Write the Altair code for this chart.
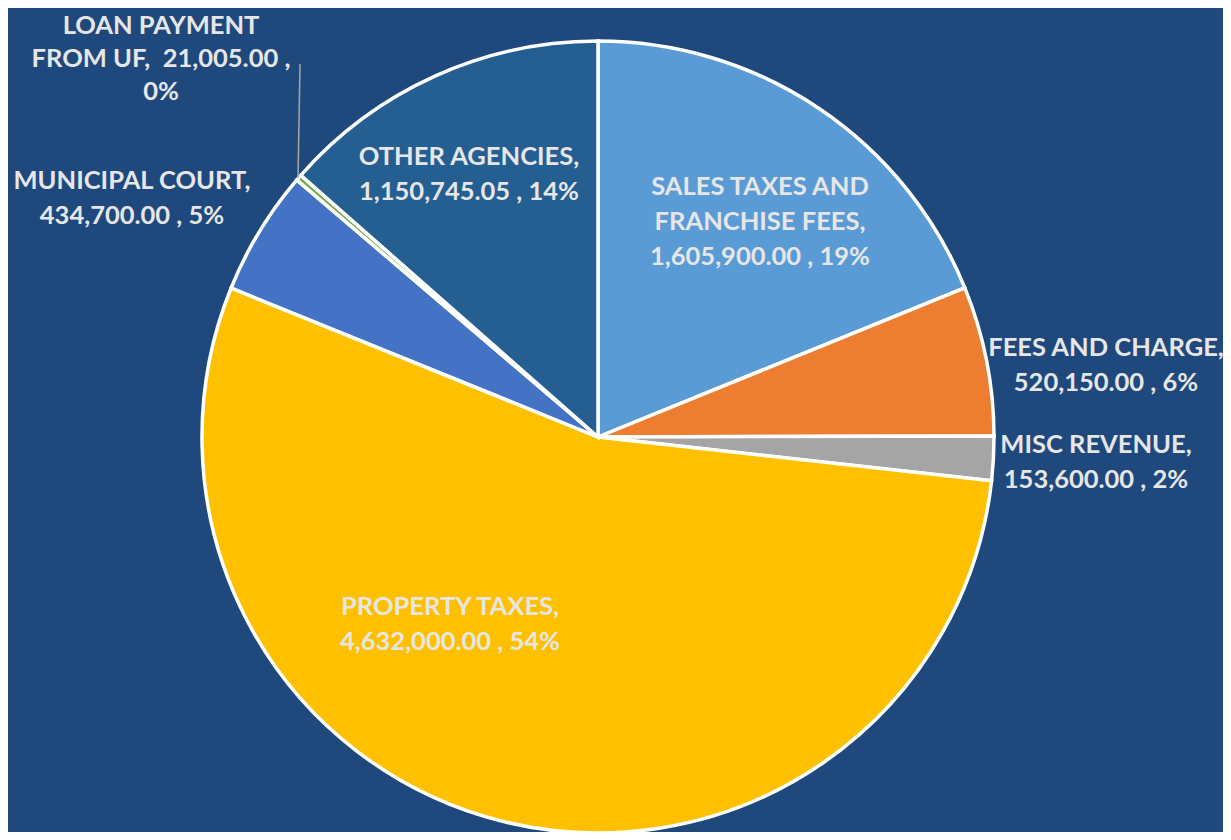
import altair as alt
import pandas as pd

categories = ["SALES TAXES AND FRANCHISE FEES", "FEES AND CHARGE", "MISC REVENUE",
              "PROPERTY TAXES", "MUNICIPAL COURT", "LOAN PAYMENT FROM UF", "OTHER AGENCIES"]
values = [1605900.00, 520150.00, 153600.00, 4632000.00, 434700.00, 21005.00, 1150745.05]
colors = ["#5B9BD5", "#ED7D31", "#A5A5A5", "#FFC000", "#4472C4", "#70AD47", "#255E91"]

label_lines = [
    ["SALES TAXES AND", "FRANCHISE FEES,", "1,605,900.00 , 19%"],
    ["FEES AND CHARGE,", "520,150.00 , 6%"],
    ["MISC REVENUE,", "153,600.00 , 2%"],
    ["PROPERTY TAXES,", "4,632,000.00 , 54%"],
    ["MUNICIPAL COURT,", "434,700.00 , 5%"],
    ["LOAN PAYMENT", "FROM UF,\u00a0\u00a021,005.00 ,", "0%"],
    ["OTHER AGENCIES,", "1,150,745.05 , 14%"],
]
# label anchor (center x, first line center y, line spacing) in chart pixels
label_pos = [(752, 179, 35), (1098, 340, 35), (1088, 437, 35), (442, 599, 35),
             (124, 173, 35), (153, 18, 33), (461, 149, 35)]

df = pd.DataFrame({"cat": categories, "val": values, "ord": list(range(len(categories)))})

rows = []
for lines, (lx, ly, lh) in zip(label_lines, label_pos):
    for i, t in enumerate(lines):
        rows.append({"t": t, "x": lx, "y": ly + i * lh})
ldf = pd.DataFrame(rows)

cx, cy, r = 590, 429, 396

pie = alt.Chart(df).mark_arc(outerRadius=r, stroke="white", strokeWidth=3.5).encode(
    theta=alt.Theta("val:Q", stack=True),
    order=alt.Order("ord:Q"),
    color=alt.Color("cat:N", scale=alt.Scale(domain=categories, range=colors), legend=None),
    x=alt.value(cx), y=alt.value(cy),
)

leader = alt.Chart(pd.DataFrame({"a": [0]})).mark_rule(color="#A6A6A6", strokeWidth=1.5).encode(
    x=alt.value(292), y=alt.value(56), x2=alt.value(290), y2=alt.value(170)
)

text = alt.Chart(ldf).mark_text(font="Lato", fontWeight="bold", fontSize=25.5, color="#E7E6E6",
                                align="center", baseline="middle").encode(
    x=alt.X("x:Q", scale=None), y=alt.Y("y:Q", scale=None), text="t:N"
)

chart = alt.layer(pie, leader, text).properties(
    width=1215, height=824, autosize=alt.AutoSizeParams(type="none"), padding=0,
    background="#1F497D"
).configure_view(stroke=None)

chart.save("out.html", embed_options={"renderer": "svg", "actions": False})
